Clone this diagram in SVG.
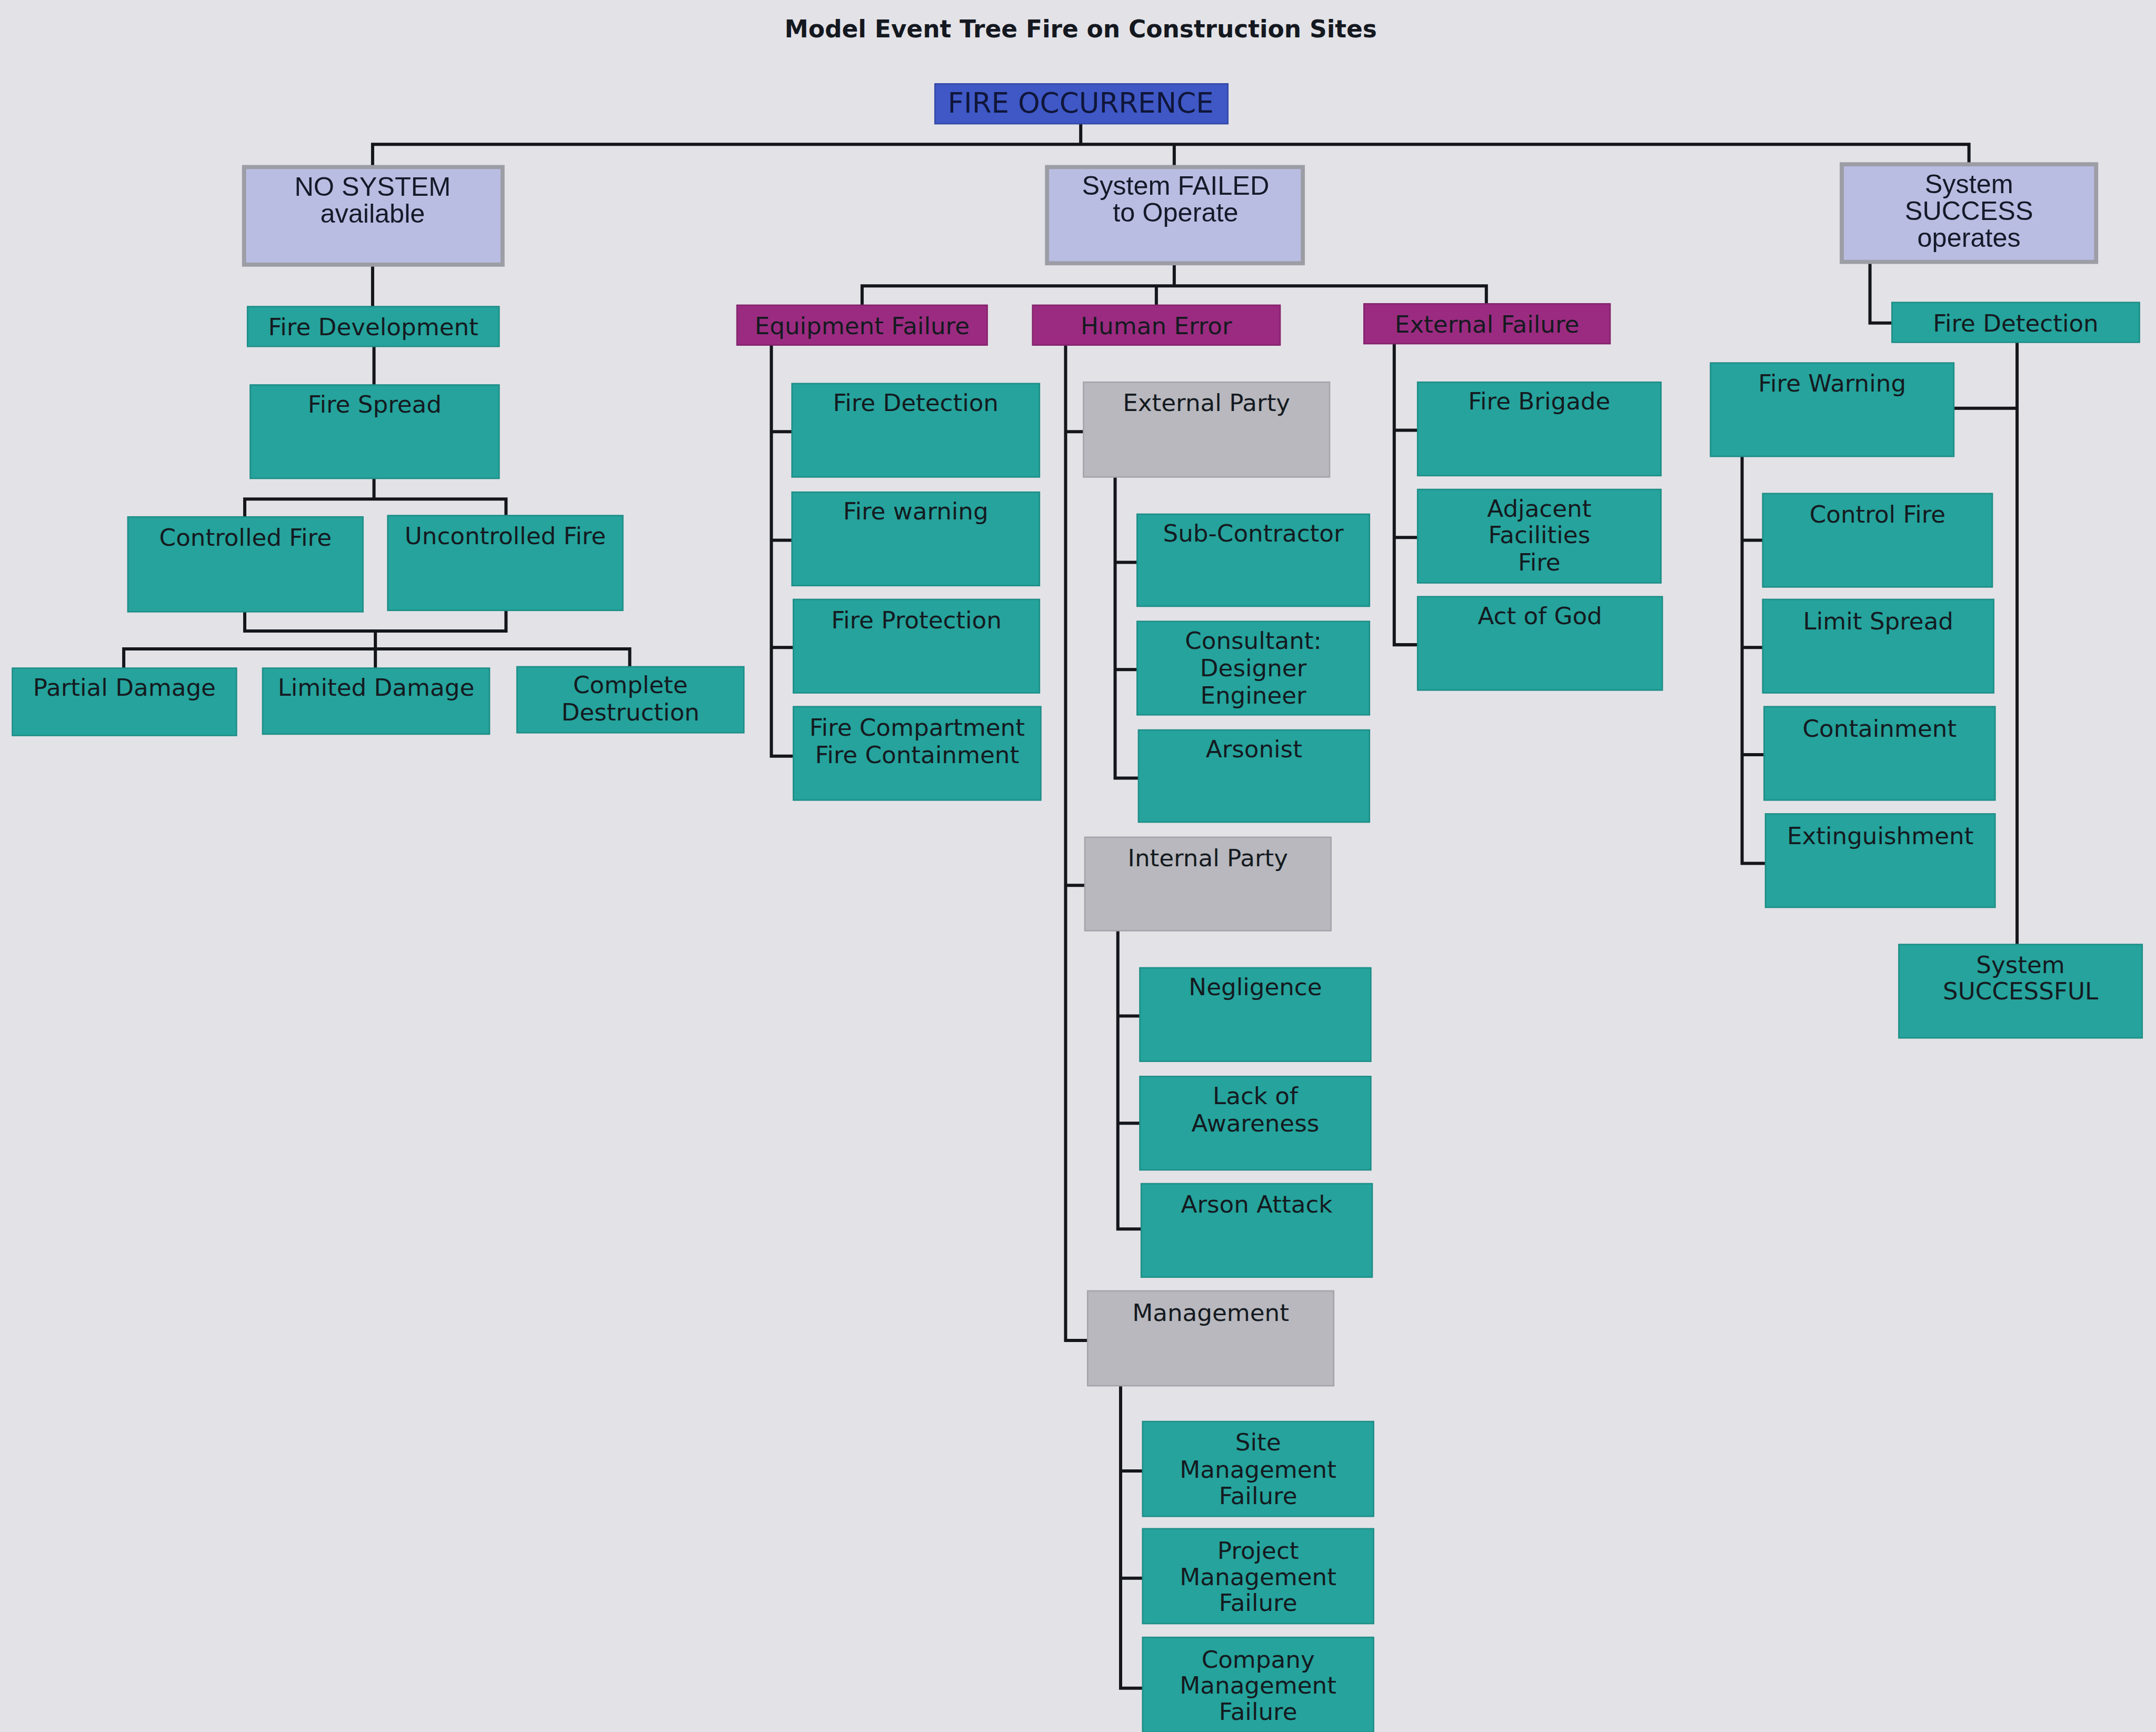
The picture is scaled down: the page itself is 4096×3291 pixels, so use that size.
<svg xmlns="http://www.w3.org/2000/svg" width="4096" height="3291" viewBox="0 0 4096 3291">
  <style>
    .bg { fill: #e3e2e7; }
    .title { font-family: "DejaVu Sans", "Liberation Sans", sans-serif; font-weight: bold; font-size: 17.4px; fill: #141820; text-anchor: middle; }
    .lbl { font-family: "DejaVu Sans", "Liberation Sans", sans-serif; font-size: 17.3px; fill: #141a20; text-anchor: middle; }
    .state { font-family: "Liberation Sans", Arial, sans-serif; font-size: 19.3px; fill: #141a28; text-anchor: middle; }
    .root { font-family: "DejaVu Sans", "Liberation Sans", sans-serif; font-size: 20.3px; fill: #10163a; text-anchor: middle; }
    .teal { fill: #25a39c; stroke: #1e8e87; stroke-width: 1; }
    .mag { fill: #9b2b80; stroke: #84246c; stroke-width: 1; }
    .gray { fill: #b8b8be; stroke: #a4a4aa; stroke-width: 1; }
    .lav { fill: #b9bde2; stroke: #9d9da6; stroke-width: 3; }
    .blue { fill: #3f58c6; stroke: #3449a8; stroke-width: 1; }
    .conn { fill: none; stroke: #14161c; stroke-width: 2.3; stroke-linecap: square; }
  </style>
  <rect class="bg" x="0" y="0" width="4096" height="3291"/>
  <g transform="scale(2.6122)">
    <text class="title" x="786" y="27">Model Event Tree Fire on Construction Sites</text>

    <!-- tree connectors -->
    <g id="connectors" class="conn">
      <path d="M786,90 V105 M271,105 H1432 M271,105 V120 M854,105 V120 M1432,105 V118"/>
      <!-- no system branch -->
      <path d="M271,194 V223 M272,252 V280 M272,348 V363 M178,363 H368 M178,363 V376 M368,363 V375"/>
      <path d="M178,445 V459 M368,444 V459 M178,459 H368 M273,459 V486 M90,472 H458 M90,472 V486 M458,472 V485"/>
      <!-- system failed branch -->
      <path d="M854,193 V208 M627,208 H1081 M627,208 V222 M841,208 V222 M1081,208 V221"/>
      <path d="M561,251 V550 M561,314 H576 M561,393 H576 M561,471 H577 M561,550 H577"/>
      <path d="M775,251 V975 M775,314 H788 M775,644 H789 M775,975 H791"/>
      <path d="M811,347 V566 M811,409 H827 M811,487 H827 M811,566 H828"/>
      <path d="M813,677 V894 M813,739 H829 M813,817 H829 M813,894 H830"/>
      <path d="M815,1008 V1228 M815,1070 H831 M815,1148 H831 M815,1228 H831"/>
      <path d="M1014,250 V469 M1014,313 H1031 M1014,391 H1031 M1014,469 H1031"/>
      <!-- system success branch -->
      <path d="M1360,192 V235 H1376 M1467,249 V687 M1421,297 H1467"/>
      <path d="M1267,332 V628 M1267,393 H1282 M1267,471 H1282 M1267,549 H1283 M1267,628 H1284"/>
    </g>

    <!-- root -->
    <g id="fire-occurrence"><rect class="blue" x="680" y="61" width="213" height="29"/><text class="root" x="786" y="82">FIRE OCCURRENCE</text></g>

    <!-- system states -->
    <g id="no-system"><rect class="lav" x="177.5" y="121.5" width="188" height="71"/><text class="state"><tspan x="271" y="142.5">NO SYSTEM</tspan><tspan x="271" y="162">available</tspan></text></g>
    <g id="system-failed"><rect class="lav" x="761.5" y="121.5" width="186" height="70"/><text class="state"><tspan x="855" y="141.5">System FAILED</tspan><tspan x="855" y="161">to Operate</tspan></text></g>
    <g id="system-success"><rect class="lav" x="1339.5" y="119.5" width="185" height="71"/><text class="state"><tspan x="1432" y="140.5">System</tspan><tspan x="1432" y="160">SUCCESS</tspan><tspan x="1432" y="179.5">operates</tspan></text></g>

    <!-- no system outcomes -->
    <g id="fire-development"><rect class="teal" x="180" y="223" width="183" height="29"/><text class="lbl" x="271.5" y="244">Fire Development</text></g>
    <g id="fire-spread"><rect class="teal" x="182" y="280" width="181" height="68"/><text class="lbl" x="272.5" y="300">Fire Spread</text></g>
    <g id="controlled-fire"><rect class="teal" x="93" y="376" width="171" height="69"/><text class="lbl" x="178.5" y="397">Controlled Fire</text></g>
    <g id="uncontrolled-fire"><rect class="teal" x="282" y="375" width="171" height="69"/><text class="lbl" x="367.5" y="396">Uncontrolled Fire</text></g>
    <g id="partial-damage"><rect class="teal" x="9" y="486" width="163" height="49"/><text class="lbl" x="90.5" y="506">Partial Damage</text></g>
    <g id="limited-damage"><rect class="teal" x="191" y="486" width="165" height="48"/><text class="lbl" x="273.5" y="506">Limited Damage</text></g>
    <g id="complete-destruction"><rect class="teal" x="376" y="485" width="165" height="48"/><text class="lbl"><tspan x="458.5" y="504">Complete</tspan><tspan x="458.5" y="524">Destruction</tspan></text></g>

    <!-- failure categories -->
    <g id="equipment-failure"><rect class="mag" x="536" y="222" width="182" height="29"/><text class="lbl" x="627" y="243">Equipment Failure</text></g>
    <g id="human-error"><rect class="mag" x="751" y="222" width="180" height="29"/><text class="lbl" x="841" y="243">Human Error</text></g>
    <g id="external-failure"><rect class="mag" x="992" y="221" width="179" height="29"/><text class="lbl" x="1081.5" y="242">External Failure</text></g>

    <!-- equipment failure -->
    <g id="eq-fire-detection"><rect class="teal" x="576" y="279" width="180" height="68"/><text class="lbl" x="666" y="299">Fire Detection</text></g>
    <g id="eq-fire-warning"><rect class="teal" x="576" y="358" width="180" height="68"/><text class="lbl" x="666" y="378">Fire warning</text></g>
    <g id="eq-fire-protection"><rect class="teal" x="577" y="436" width="179" height="68"/><text class="lbl" x="666.5" y="457">Fire Protection</text></g>
    <g id="eq-fire-compartment"><rect class="teal" x="577" y="514" width="180" height="68"/><text class="lbl"><tspan x="667" y="535">Fire Compartment</tspan><tspan x="667" y="555">Fire Containment</tspan></text></g>

    <!-- human error -->
    <g id="external-party"><rect class="gray" x="788" y="278" width="179" height="69"/><text class="lbl" x="877.5" y="299">External Party</text></g>
    <g id="sub-contractor"><rect class="teal" x="827" y="374" width="169" height="67"/><text class="lbl" x="911.5" y="394">Sub-Contractor</text></g>
    <g id="consultant"><rect class="teal" x="827" y="452" width="169" height="68"/><text class="lbl"><tspan x="911.5" y="472">Consultant:</tspan><tspan x="911.5" y="492">Designer</tspan><tspan x="911.5" y="512">Engineer</tspan></text></g>
    <g id="arsonist"><rect class="teal" x="828" y="531" width="168" height="67"/><text class="lbl" x="912" y="551">Arsonist</text></g>
    <g id="internal-party"><rect class="gray" x="789" y="609" width="179" height="68"/><text class="lbl" x="878.5" y="630">Internal Party</text></g>
    <g id="negligence"><rect class="teal" x="829" y="704" width="168" height="68"/><text class="lbl" x="913" y="724">Negligence</text></g>
    <g id="lack-of-awareness"><rect class="teal" x="829" y="783" width="168" height="68"/><text class="lbl"><tspan x="913" y="803">Lack of</tspan><tspan x="913" y="823">Awareness</tspan></text></g>
    <g id="arson-attack"><rect class="teal" x="830" y="861" width="168" height="68"/><text class="lbl" x="914" y="882">Arson Attack</text></g>
    <g id="management"><rect class="gray" x="791" y="939" width="179" height="69"/><text class="lbl" x="880.5" y="961">Management</text></g>
    <g id="site-management"><rect class="teal" x="831" y="1034" width="168" height="69"/><text class="lbl"><tspan x="915" y="1055">Site</tspan><tspan x="915" y="1075">Management</tspan><tspan x="915" y="1094">Failure</tspan></text></g>
    <g id="project-management"><rect class="teal" x="831" y="1112" width="168" height="69"/><text class="lbl"><tspan x="915" y="1134">Project</tspan><tspan x="915" y="1153">Management</tspan><tspan x="915" y="1172">Failure</tspan></text></g>
    <g id="company-management"><rect class="teal" x="831" y="1191" width="168" height="69"/><text class="lbl"><tspan x="915" y="1213">Company</tspan><tspan x="915" y="1232">Management</tspan><tspan x="915" y="1251">Failure</tspan></text></g>

    <!-- external failure -->
    <g id="fire-brigade"><rect class="teal" x="1031" y="278" width="177" height="68"/><text class="lbl" x="1119.5" y="298">Fire Brigade</text></g>
    <g id="adjacent-facilities"><rect class="teal" x="1031" y="356" width="177" height="68"/><text class="lbl"><tspan x="1119.5" y="376">Adjacent</tspan><tspan x="1119.5" y="395">Facilities</tspan><tspan x="1119.5" y="415">Fire</tspan></text></g>
    <g id="act-of-god"><rect class="teal" x="1031" y="434" width="178" height="68"/><text class="lbl" x="1120" y="454">Act of God</text></g>

    <!-- system success -->
    <g id="ss-fire-detection"><rect class="teal" x="1376" y="220" width="180" height="29"/><text class="lbl" x="1466" y="241">Fire Detection</text></g>
    <g id="ss-fire-warning"><rect class="teal" x="1244" y="264" width="177" height="68"/><text class="lbl" x="1332.5" y="285">Fire Warning</text></g>
    <g id="control-fire"><rect class="teal" x="1282" y="359" width="167" height="68"/><text class="lbl" x="1365.5" y="380">Control Fire</text></g>
    <g id="limit-spread"><rect class="teal" x="1282" y="436" width="168" height="68"/><text class="lbl" x="1366" y="458">Limit Spread</text></g>
    <g id="containment"><rect class="teal" x="1283" y="514" width="168" height="68"/><text class="lbl" x="1367" y="536">Containment</text></g>
    <g id="extinguishment"><rect class="teal" x="1284" y="592" width="167" height="68"/><text class="lbl" x="1367.5" y="614">Extinguishment</text></g>
    <g id="system-successful"><rect class="teal" x="1381" y="687" width="177" height="68"/><text class="lbl"><tspan x="1469.5" y="708">System</tspan><tspan x="1469.5" y="727">SUCCESSFUL</tspan></text></g>
  </g>
</svg>
